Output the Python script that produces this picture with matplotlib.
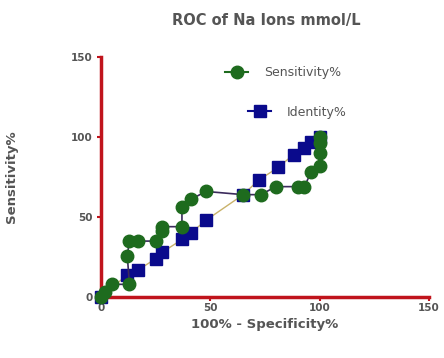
import matplotlib.pyplot as plt
from matplotlib.lines import Line2D

# ROC data
sens_x = [0, 2, 5, 13, 12, 13, 17, 25, 28, 28, 37, 37, 41, 48, 65, 73, 80, 90, 93, 96, 100, 100, 100, 100]
sens_y = [0, 3, 8, 8, 26, 35, 35, 35, 41, 44, 44, 56, 61, 66, 64, 64, 69, 69, 69, 78, 82, 90, 96, 100]

ident_x = [0, 12, 17, 25, 28, 37, 41, 48, 65, 72, 81, 88, 93, 96, 100]
ident_y = [0, 14, 17, 24, 28, 36, 40, 48, 64, 73, 81, 89, 93, 97, 100]

ticks = [0, 50, 100, 150]

red = '#c0141c'
grey = '#555555'

fig = plt.figure(figsize=(4.44, 3.58), dpi=100)
ax = fig.add_axes([0.2275, 0.170, 0.739, 0.671])

ax.plot(ident_x, ident_y, color='#c9b26a', lw=1, marker='s', ms=8,
        mfc='#0a0a8c', mec='#0a0a8c', zorder=3)
ax.plot(sens_x, sens_y, color='#3b2a5c', lw=1.2, marker='o', ms=9,
        mfc='#1e6b1e', mec='#1e6b1e', zorder=4)

ax.set_xlim(0, 150)
ax.set_ylim(0, 150)
ax.set_xticks(ticks)
ax.set_yticks(ticks)
for s in ['top', 'right']:
    ax.spines[s].set_visible(False)
for s in ['left', 'bottom']:
    ax.spines[s].set_color(red)
    ax.spines[s].set_linewidth(2.5)
ax.tick_params(colors=red, width=1.5, length=3, labelsize=7.5, labelcolor=grey, pad=3)
ax.tick_params(axis='x', pad=1.5)
for lab in ax.get_xticklabels() + ax.get_yticklabels():
    lab.set_fontweight('bold')
ax.margins(0)
for line in ax.lines:
    line.set_clip_on(False)

ax.set_xlabel('100% - Specificity%', fontsize=9.5, fontweight='bold', color=grey, labelpad=3)
ax.set_ylabel('Sensitivity%', fontsize=9.5, fontweight='bold', color=grey, labelpad=38)
fig.text(0.6, 0.942, 'ROC of Na Ions mmol/L', ha='center', va='center',
         fontsize=10.5, fontweight='bold', color=grey)

h1 = Line2D([], [], color='#1e6b1e', lw=1.5, marker='o', ms=9, mfc='#1e6b1e', mec='#1e6b1e')
h2 = Line2D([], [], color='#0a0a8c', lw=1.5, marker='s', ms=8, mfc='#0a0a8c', mec='#0a0a8c')
leg1 = ax.legend([h1], ['Sensitivity%'], loc='center left', bbox_to_anchor=(0.345, 0.935),
                 frameon=False, fontsize=9, handlelength=1.8, handletextpad=1.3,
                 labelcolor=grey)
ax.add_artist(leg1)
ax.legend([h2], ['Identity%'], loc='center left', bbox_to_anchor=(0.415, 0.77),
          frameon=False, fontsize=9, handlelength=1.8, handletextpad=1.3,
          labelcolor=grey)

fig.savefig('out.png', dpi=100)
